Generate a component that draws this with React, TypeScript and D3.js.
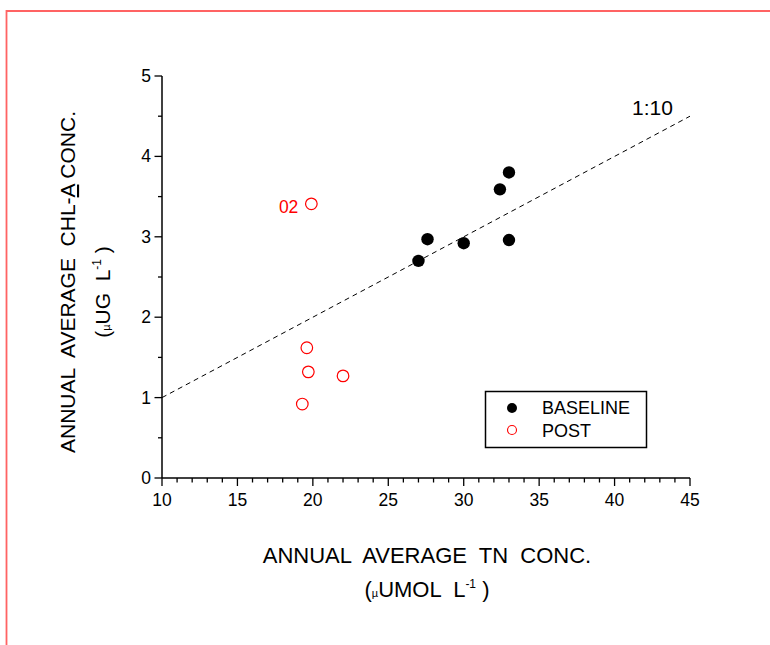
import React, { useEffect, useRef } from 'react';
import * as d3 from 'd3';

// values
const baselineTN = [27.0, 27.6, 30.0, 32.4, 33.0, 33.0];
const baselineChl = [2.70, 2.97, 2.92, 3.59, 3.80, 2.96];
const postTN = [19.9, 19.6, 19.7, 22.0, 19.3];
const postChl = [3.41, 1.62, 1.32, 1.27, 0.92];
const postLabels = ['02', '', '', '', ''];
const lineTN = [10, 45];
const lineRatio = 10;
const xTicks = [10, 15, 20, 25, 30, 35, 40, 45];
const yTicks = [0, 1, 2, 3, 4, 5];
const legendNames = ['BASELINE', 'POST'];

const W = 770;
const H = 645;
const FONT = '"Liberation Sans", Arial, sans-serif';

const App = () => {
    const svgRef = useRef<SVGSVGElement>(null);

    useEffect(() => {
        const svg = d3.select(svgRef.current);
        svg.selectAll('*').remove();
        svg.style('font-family', FONT);

        const x = d3.scaleLinear().domain([10, 45]).range([162, 690]);
        const y = d3.scaleLinear().domain([0, 5]).range([478, 76]);

        // red frame
        svg.append('path')
            .attr('d', `M6.5,${H} L6.5,11 L${W},11`)
            .attr('fill', 'none')
            .attr('stroke', '#ff6363')
            .attr('stroke-width', 1.8);

        // ticks, major and minor
        const g = svg.append('g');
        g.selectAll('.xminor')
            .data(d3.range(10, 46, 1))
            .enter()
            .append('line')
            .attr('x1', d => x(d)).attr('x2', d => x(d))
            .attr('y1', y(0)).attr('y2', d => y(0) + (d % 5 === 0 ? 8 : 4.5))
            .attr('stroke', '#000').attr('stroke-width', 1.3);
        g.selectAll('.yminor')
            .data(d3.range(0, 5.01, 0.5))
            .enter()
            .append('line')
            .attr('y1', d => y(d)).attr('y2', d => y(d))
            .attr('x1', x(10)).attr('x2', d => x(10) - (d % 1 === 0 ? 7.5 : 4))
            .attr('stroke', '#000').attr('stroke-width', 1.3);

        // axis lines
        g.append('line')
            .attr('x1', x(10)).attr('x2', x(45)).attr('y1', y(0)).attr('y2', y(0))
            .attr('stroke', '#000').attr('stroke-width', 1.5);
        g.append('line')
            .attr('x1', x(10)).attr('x2', x(10)).attr('y1', y(0)).attr('y2', y(5))
            .attr('stroke', '#000').attr('stroke-width', 1.5);

        // tick labels
        g.selectAll('.xlab')
            .data(xTicks)
            .enter()
            .append('text')
            .attr('x', d => x(d))
            .attr('y', 506)
            .attr('text-anchor', 'middle')
            .style('font-size', '17.5px')
            .text(d => d);
        g.selectAll('.ylab')
            .data(yTicks)
            .enter()
            .append('text')
            .attr('x', 151)
            .attr('y', d => y(d) + 6)
            .attr('text-anchor', 'end')
            .style('font-size', '17.5px')
            .text(d => d);

        // 1:10 line
        svg.append('line')
            .attr('x1', x(lineTN[0])).attr('y1', y(lineTN[0] / lineRatio))
            .attr('x2', x(lineTN[1])).attr('y2', y(lineTN[1] / lineRatio))
            .attr('stroke', '#000')
            .attr('stroke-width', 1)
            .attr('stroke-dasharray', '5,4');
        svg.append('text')
            .attr('x', 632).attr('y', 115)
            .style('font-size', '21px')
            .text('1:10');

        // points
        svg.selectAll('.base')
            .data(baselineTN)
            .enter()
            .append('circle')
            .attr('cx', d => x(d))
            .attr('cy', (d, i) => y(baselineChl[i]))
            .attr('r', 6.2)
            .attr('fill', '#000');
        svg.selectAll('.post')
            .data(postTN)
            .enter()
            .append('circle')
            .attr('cx', d => x(d))
            .attr('cy', (d, i) => y(postChl[i]))
            .attr('r', 5.8)
            .attr('fill', 'none')
            .attr('stroke', '#ff0000')
            .attr('stroke-width', 1.2);
        svg.selectAll('.postlab')
            .data(postTN)
            .enter()
            .append('text')
            .attr('x', d => x(d) - 13)
            .attr('y', (d, i) => y(postChl[i]) + 9)
            .attr('text-anchor', 'end')
            .attr('fill', '#ff0000')
            .style('font-size', '17.5px')
            .text((d, i) => postLabels[i]);

        // legend
        const lg = svg.append('g');
        lg.append('rect')
            .attr('x', 485.5).attr('y', 391.5).attr('width', 161).attr('height', 56)
            .attr('fill', '#fff').attr('stroke', '#000').attr('stroke-width', 1.5);
        lg.append('circle').attr('cx', 512).attr('cy', 408).attr('r', 5).attr('fill', '#000');
        lg.append('circle').attr('cx', 512).attr('cy', 430).attr('r', 4.5)
            .attr('fill', 'none').attr('stroke', '#ff0000').attr('stroke-width', 1.1);
        lg.selectAll('.legtext')
            .data(legendNames)
            .enter()
            .append('text')
            .attr('x', 542)
            .attr('y', (d, i) => 414 + i * 23)
            .style('font-size', '18px')
            .text(d => d);

        // x title
        svg.append('text')
            .attr('x', 427).attr('y', 563)
            .attr('text-anchor', 'middle')
            .style('font-size', '22px')
            .style('white-space', 'pre')
            .text('ANNUAL  AVERAGE  TN  CONC.');
        const xt2 = svg.append('text')
            .attr('x', 427).attr('y', 597)
            .attr('text-anchor', 'middle')
            .style('font-size', '22px')
            .style('white-space', 'pre');
        xt2.append('tspan').text('(');
        xt2.append('tspan').style('font-size', '11px').text('µ');
        xt2.append('tspan').text('UMOL  L');
        xt2.append('tspan').style('font-size', '12px').attr('dy', -9).text('-1');
        xt2.append('tspan').attr('dy', 9).text(' )');

        // y title
        const yt = svg.append('g').attr('transform', 'translate(75,282) rotate(-90)');
        const yt1 = yt.append('text')
            .attr('x', 0).attr('y', 0)
            .attr('text-anchor', 'middle')
            .style('font-size', '21px')
            .style('white-space', 'pre');
        yt1.append('tspan').text('ANNUAL  AVERAGE  CHL-');
        yt1.append('tspan').style('text-decoration', 'underline').text('A');
        yt1.append('tspan').text(' CONC.');
        const yt2 = yt.append('text')
            .attr('x', -10).attr('y', 35)
            .attr('text-anchor', 'middle')
            .style('font-size', '21px')
            .style('white-space', 'pre');
        yt2.append('tspan').text('(');
        yt2.append('tspan').style('font-size', '11px').text('µ');
        yt2.append('tspan').text('UG  L');
        yt2.append('tspan').style('font-size', '12px').attr('dy', -9).text('-1');
        yt2.append('tspan').attr('dy', 9).text(' )');
    }, []);

    return (
        <svg
            ref={svgRef}
            width={W}
            height={H}
            style={{ position: 'absolute', left: 0, top: 0, background: '#fff' }}
        ></svg>
    );
};

export default App;
